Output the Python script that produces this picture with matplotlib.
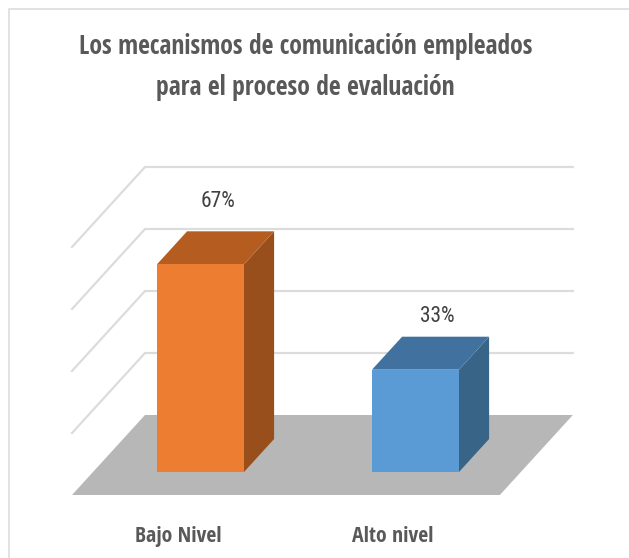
import matplotlib
matplotlib.use('Agg')
import matplotlib.pyplot as plt
from matplotlib.patches import Polygon

title_lines = ['Los mecanismos de comunicación empleados',
               'para el proceso de evaluación']
categories = ['Bajo Nivel', 'Alto nivel']
values = [67, 33]
value_labels = ['67%', '33%']
grid_values = [20, 40, 60, 80]

front_colors = ['#ed7d31', '#5b9bd5']
top_colors = ['#b55d20', '#41729f']
side_colors = ['#984f1c', '#386488']

# pixels per unit of the oblique view
PX_CAT = 215.0
PX_PCT = 3.1
DEPTH_X = 73.0 / PX_CAT
DEPTH_Y = 80.0 / PX_PCT

BOLD_FONT = ['Open Sans Condensed', 'DejaVu Sans']
VALUE_FONT = ['Roboto Condensed', 'DejaVu Sans']


def project(x, y, d):
    return (x + d * DEPTH_X, y + d * DEPTH_Y)


fig = plt.figure(figsize=(6.29, 5.58), dpi=100)
ax = fig.add_axes([0, 0, 1, 1])
ax.set_xlim(-179.5 / PX_CAT, (629 - 179.5) / PX_CAT)
ax.set_ylim(-63 / PX_PCT, 495 / PX_PCT)
ax.axis('off')

# chart frame, top and left only
ax.plot([0.0145, 0.0145, 1], [0, 0.984, 0.984], transform=ax.transAxes,
        color='#e2e2e2', lw=1.4, zorder=1)

# walls
x_left, x_right = -0.5, 1.49
for g in grid_values:
    pts = [project(x_left, g, 0), project(x_left, g, 1), project(x_right, g, 1)]
    ax.plot(*zip(*pts), color='#dcdcdc', lw=1.6, zorder=2,
            solid_joinstyle='miter')

# floor
floor = [project(x_left, 0, 0), project(x_left, 0, 1),
         project(x_right, 0, 1), project(x_right, 0, 0)]
ax.add_patch(Polygon(floor, closed=True, fc='#b7b7b7', ec='none', zorder=3))

# bars
bar_w = 87.0 / PX_CAT
d0, d1 = 0.2875, 0.7
label_dx = [-0.058, -0.04]
label_dy = [9.7, 6.5]
for i, val in enumerate(values):
    x0 = i - bar_w / 2
    x1 = i + bar_w / 2
    front = [project(x0, 0, d0), project(x1, 0, d0),
             project(x1, val, d0), project(x0, val, d0)]
    top = [project(x0, val, d0), project(x1, val, d0),
           project(x1, val, d1), project(x0, val, d1)]
    side = [project(x1, 0, d0), project(x1, 0, d1),
            project(x1, val, d1), project(x1, val, d0)]
    ax.add_patch(Polygon(side, closed=True, fc=side_colors[i], ec='none', zorder=4))
    ax.add_patch(Polygon(top, closed=True, fc=top_colors[i], ec='none', zorder=4))
    ax.add_patch(Polygon(front, closed=True, fc=front_colors[i], ec='none', zorder=5))

    lx, ly = project(i + label_dx[i], val + label_dy[i], d1)
    ax.text(lx, ly, value_labels[i], ha='center', va='center', color='#404040',
            fontsize=15.5, family=VALUE_FONT, zorder=6)
    ax.text(i - 0.007, -41.5 / PX_PCT, categories[i], ha='center',
            va='center', color='#595959', fontsize=15.7, fontweight='bold',
            family=BOLD_FONT, zorder=6)

# title
for line, ypos in zip(title_lines, [47, 88]):
    ax.text(0.486, 1 - ypos / 558, line, transform=ax.transAxes, ha='center',
            va='center', color='#595959', fontsize=18.5, fontweight='bold',
            family=BOLD_FONT, zorder=6)

fig.savefig('out.png', dpi=100, facecolor='white')
